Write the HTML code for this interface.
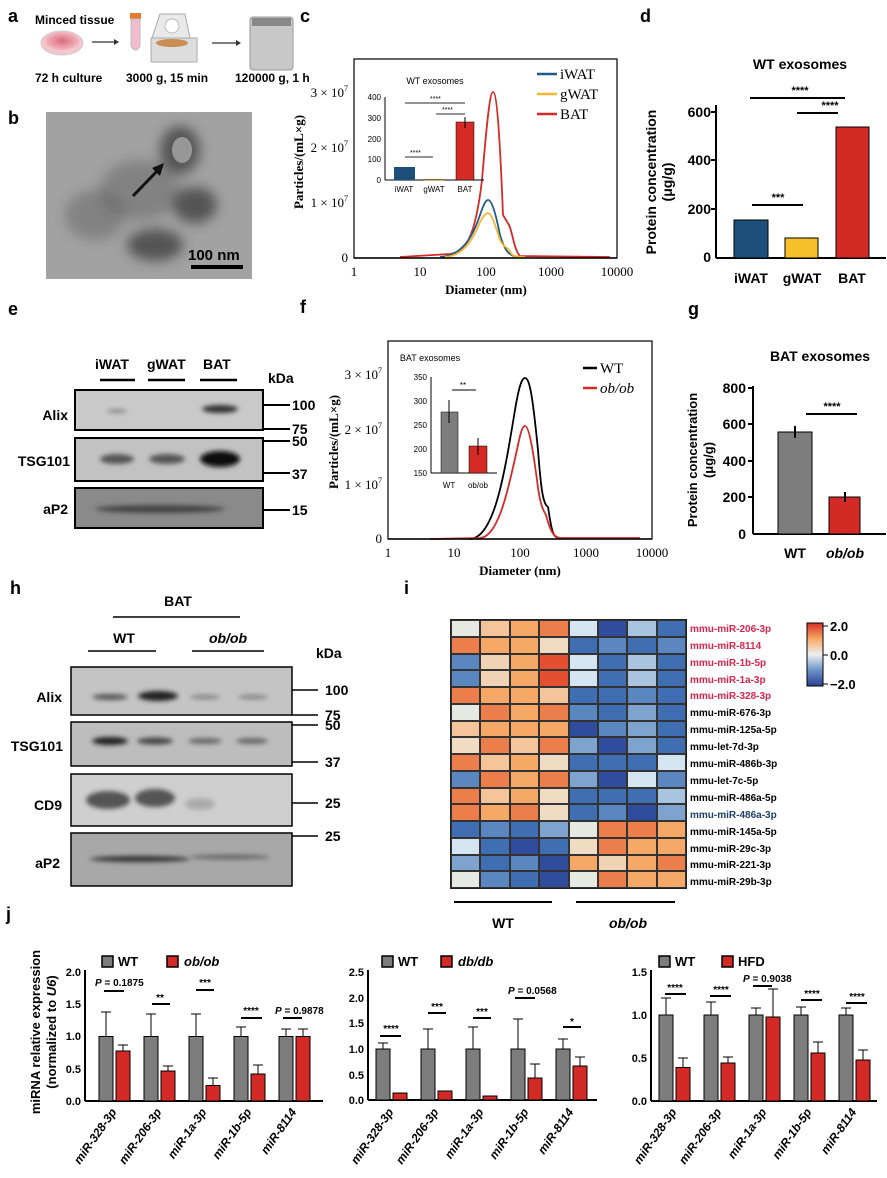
<!DOCTYPE html>
<html><head><meta charset="utf-8"><style>
body{margin:0;background:#fff;}
svg{display:block;font-family:"Liberation Sans",sans-serif;}
.b{font-weight:bold}
.s{font-family:"Liberation Serif",serif}
#hm{position:absolute;left:450px;top:619px;width:237px;height:270px;display:grid;grid-template-columns:repeat(8,1fr);grid-template-rows:repeat(16,1fr);border:1px solid #222;box-sizing:border-box}
#hm i{display:block;border:0.5px solid #333}
</style></head><body>
<div style="position:relative;width:887px;height:1178px">
<svg width="887" height="1178" viewBox="0 0 887 1178">
<defs>
<filter id="bl" x="-20%" y="-50%" width="140%" height="200%"><feGaussianBlur stdDeviation="2.5"/></filter>
<filter id="bl2"><feGaussianBlur stdDeviation="6"/></filter>
<radialGradient id="dish"><stop offset="0" stop-color="#d96b7c"/><stop offset="1" stop-color="#f4b6c0"/></radialGradient>
</defs>
<g class="b" font-size="18" fill="#000">
<text x="8" y="22">a</text><text x="8" y="124">b</text><text x="300" y="22">c</text><text x="640" y="22">d</text>
<text x="8" y="315">e</text><text x="300" y="313">f</text><text x="688" y="315">g</text>
<text x="10" y="594">h</text><text x="404" y="594">i</text><text x="6" y="920">j</text>
</g>
<!-- panel a -->
<text x="35" y="24" class="b" font-size="12">Minced tissue</text>
<ellipse cx="62" cy="43" rx="21" ry="12" fill="#f2c6cc" stroke="#ccc"/>
<ellipse cx="62" cy="41" rx="17" ry="9" fill="url(#dish)"/>
<line x1="92" y1="42" x2="114" y2="42" stroke="#333" stroke-width="1.2"/><path d="M114,39 L119,42 L114,45Z" fill="#333"/>
<rect x="130" y="13" width="11" height="6" fill="#e27b2e"/><path d="M131,19 H140 V46 Q135.5,54 131,46Z" fill="#f1bcd0" stroke="#bbb"/>
<path d="M152,38 L160,14 L185,14 L190,38Z" fill="#e9e9ea" stroke="#aaa"/><circle cx="172" cy="26" r="7" fill="#fff" stroke="#bbb"/>
<rect x="151" y="38" width="46" height="24" fill="#ddd" stroke="#aaa"/><ellipse cx="172" cy="43" rx="16" ry="4" fill="#c98e50"/>
<line x1="212" y1="43" x2="236" y2="43" stroke="#333" stroke-width="1.2"/><path d="M236,40 L241,43 L236,46Z" fill="#333"/>
<rect x="250" y="17" width="43" height="53" rx="3" fill="#c8c8c8" stroke="#999"/><rect x="252" y="18" width="39" height="8" fill="#888"/>
<g class="b" font-size="12"><text x="35" y="82">72 h culture</text><text x="126" y="82">3000 g, 15 min</text><text x="235" y="82">120000 g, 1 h</text></g>
<!-- panel b -->
<rect x="46" y="112" width="206" height="167" fill="#a2a2a2"/>
<g filter="url(#bl2)" fill="#3a3a3a" opacity="0.75">
<ellipse cx="180" cy="150" rx="20" ry="24"/><ellipse cx="195" cy="205" rx="22" ry="18"/><ellipse cx="155" cy="245" rx="28" ry="16"/>
<ellipse cx="95" cy="215" rx="30" ry="25" opacity="0.4"/><ellipse cx="140" cy="190" rx="40" ry="30" opacity="0.4"/>
</g>
<ellipse cx="182" cy="150" rx="10" ry="13" fill="#a8a8a8" opacity="0.8"/>
<line x1="133" y1="196" x2="160" y2="168" stroke="#111" stroke-width="3"/><path d="M164,163 L152,168 L160,176Z" fill="#111"/>
<text x="188" y="260" class="b" font-size="15">100 nm</text>
<rect x="191" y="265" width="52" height="4" fill="#000"/>
<!-- panel c -->
<g class="s" font-size="13">
<rect x="354" y="59" width="263" height="199" fill="none" stroke="#000" stroke-width="1.2"/>
<text x="348" y="262" text-anchor="end">0</text>
<text x="348" y="207" text-anchor="end">1 × 10<tspan font-size="8" dy="-6">7</tspan></text>
<text x="348" y="152" text-anchor="end">2 × 10<tspan font-size="8" dy="-6">7</tspan></text>
<text x="348" y="97" text-anchor="end">3 × 10<tspan font-size="8" dy="-6">7</tspan></text>
<text x="354" y="276" text-anchor="middle">1</text><text x="420" y="276" text-anchor="middle">10</text><text x="486" y="276" text-anchor="middle">100</text><text x="551" y="276" text-anchor="middle">1000</text><text x="617" y="276" text-anchor="middle">10000</text>
<text x="486" y="294" text-anchor="middle" class="b" font-size="13">Diameter (nm)</text>
<text transform="translate(303,162) rotate(-90)" text-anchor="middle" class="b" font-size="13">Particles/(mL×g)</text>
<line x1="537" y1="74" x2="557" y2="74" stroke="#1f5b8f" stroke-width="2.5"/><text x="560" y="79" font-size="15">iWAT</text>
<line x1="537" y1="94" x2="557" y2="94" stroke="#f5b731" stroke-width="2.5"/><text x="560" y="99" font-size="15">gWAT</text>
<line x1="537" y1="114" x2="557" y2="114" stroke="#d62a26" stroke-width="2.5"/><text x="560" y="119" font-size="15">BAT</text>
</g>
<g fill="none" stroke-width="1.8">
<path d="M400,257 L450,254 C465,252 475,240 482,180 C487,120 490,92 493,92 C497,92 500,140 503,215 L509,225 C512,230 514,250 520,256 L610,257" stroke="#d62a26"/>
<path d="M440,257 C465,256 475,230 480,215 C484,203 486,200 488,200 C492,200 496,215 500,235 C505,252 510,257 520,257" stroke="#1f5b8f"/>
<path d="M445,257 C465,256 475,235 480,222 C484,215 486,213 488,213 C492,213 496,228 500,240 C504,248 506,246 509,250 C512,256 514,257 525,257" stroke="#f5b731"/>
</g>
<line x1="354" y1="258" x2="617" y2="258" stroke="#000" stroke-width="1.5"/>
<!-- inset c -->
<g font-size="8">
<text x="435" y="84" text-anchor="middle" font-size="9">WT exosomes</text>
<line x1="385" y1="97" x2="385" y2="180" stroke="#000"/><line x1="385" y1="180" x2="484" y2="180" stroke="#000"/>
<text x="381" y="100" text-anchor="end">400</text><text x="381" y="121" text-anchor="end">300</text><text x="381" y="142" text-anchor="end">200</text><text x="381" y="162" text-anchor="end">100</text><text x="381" y="183" text-anchor="end">0</text>
<rect x="394" y="167" width="21" height="13" fill="#1c4f7a"/><rect x="424" y="179" width="20" height="1.5" fill="#8a6a20"/><rect x="456" y="122" width="18" height="58" fill="#d62a26" stroke="#000" stroke-width="0.5"/>
<line x1="465" y1="117" x2="465" y2="128" stroke="#000"/>
<text x="404" y="192" text-anchor="middle">iWAT</text><text x="434" y="192" text-anchor="middle">gWAT</text><text x="465" y="192" text-anchor="middle">BAT</text>
<line x1="405" y1="103" x2="465" y2="103" stroke="#555" stroke-width="1.2"/><text x="430" y="101" font-size="7">****</text>
<line x1="436" y1="114" x2="465" y2="114" stroke="#555" stroke-width="1.2"/><text x="442" y="112" font-size="7">****</text>
<line x1="405" y1="157" x2="433" y2="157" stroke="#555" stroke-width="1.2"/><text x="410" y="155" font-size="7">****</text>
</g>
<!-- panel d -->
<text x="800" y="69" text-anchor="middle" class="b" font-size="14">WT exosomes</text>
<g class="b" font-size="14">
<line x1="716" y1="105" x2="716" y2="258" stroke="#000" stroke-width="2"/><line x1="716" y1="258" x2="886" y2="258" stroke="#000" stroke-width="2"/>
<text x="711" y="117" text-anchor="end">600</text><text x="711" y="165" text-anchor="end">400</text><text x="711" y="214" text-anchor="end">200</text><text x="711" y="262" text-anchor="end">0</text>
<line x1="711" y1="112" x2="716" y2="112" stroke="#000" stroke-width="2"/><line x1="711" y1="160" x2="716" y2="160" stroke="#000" stroke-width="2"/><line x1="711" y1="209" x2="716" y2="209" stroke="#000" stroke-width="2"/>
<rect x="734" y="220" width="34" height="38" fill="#1c4f7a" stroke="#000"/><rect x="785" y="238" width="33" height="20" fill="#f5c02a" stroke="#000"/><rect x="836" y="127" width="33" height="131" fill="#d42a26" stroke="#000"/>
<text x="751" y="283" text-anchor="middle">iWAT</text><text x="802" y="283" text-anchor="middle">gWAT</text><text x="852" y="283" text-anchor="middle">BAT</text>
<line x1="750" y1="98" x2="845" y2="98" stroke="#000" stroke-width="2"/><text x="800" y="94" text-anchor="middle" font-size="11">****</text>
<line x1="797" y1="113" x2="838" y2="113" stroke="#000" stroke-width="2"/><text x="830" y="109" text-anchor="middle" font-size="11">****</text>
<line x1="752" y1="205" x2="803" y2="205" stroke="#000" stroke-width="2"/><text x="778" y="201" text-anchor="middle" font-size="11">***</text>
<text transform="translate(656,182) rotate(-90)" text-anchor="middle" font-size="14">Protein concentration</text>
<text transform="translate(672,182) rotate(-90)" text-anchor="middle" font-size="14">(μg/g)</text>
</g>
<!-- panel e -->
<g class="b" font-size="14">
<text x="95" y="369">iWAT</text><text x="147" y="369">gWAT</text><text x="203" y="369">BAT</text><text x="268" y="383">kDa</text>
<line x1="100" y1="380" x2="135" y2="380" stroke="#000" stroke-width="2.5"/><line x1="148" y1="380" x2="185" y2="380" stroke="#000" stroke-width="2.5"/><line x1="200" y1="380" x2="237" y2="380" stroke="#000" stroke-width="2.5"/>
<rect x="75" y="390" width="188" height="40" fill="#c9c9c9" stroke="#000" stroke-width="2"/>
<rect x="75" y="438" width="188" height="43" fill="#c2c2c2" stroke="#000" stroke-width="2"/>
<rect x="75" y="488" width="188" height="40" fill="#8a8a8a" stroke="#000" stroke-width="2"/>
<g filter="url(#bl)"><ellipse cx="220" cy="409" rx="18" ry="4" fill="#333"/><ellipse cx="117" cy="411" rx="10" ry="2" fill="#888"/>
<ellipse cx="117" cy="459" rx="17" ry="5" fill="#555"/><ellipse cx="167" cy="459" rx="18" ry="5" fill="#555"/><ellipse cx="220" cy="459" rx="20" ry="8" fill="#111"/>
<ellipse cx="160" cy="509" rx="65" ry="4" fill="#444"/></g>
<text x="68" y="420" text-anchor="end">Alix</text><text x="70" y="466" text-anchor="end">TSG101</text><text x="68" y="514" text-anchor="end">aP2</text>
<g stroke="#000" stroke-width="2"><line x1="263" y1="405" x2="290" y2="405"/><line x1="263" y1="429" x2="290" y2="429"/><line x1="263" y1="441" x2="290" y2="441"/><line x1="263" y1="473" x2="290" y2="473"/><line x1="263" y1="510" x2="290" y2="510"/></g>
<text x="292" y="410">100</text><text x="292" y="434">75</text><text x="292" y="446">50</text><text x="292" y="479">37</text><text x="292" y="515">15</text>
</g>
<!-- panel f -->
<g class="s" font-size="13">
<rect x="388" y="341" width="264" height="198" fill="none" stroke="#000" stroke-width="1.2"/>
<text x="382" y="543" text-anchor="end">0</text>
<text x="382" y="489" text-anchor="end">1 × 10<tspan font-size="8" dy="-6">7</tspan></text>
<text x="382" y="434" text-anchor="end">2 × 10<tspan font-size="8" dy="-6">7</tspan></text>
<text x="382" y="379" text-anchor="end">3 × 10<tspan font-size="8" dy="-6">7</tspan></text>
<text x="388" y="557" text-anchor="middle">1</text><text x="454" y="557" text-anchor="middle">10</text><text x="520" y="557" text-anchor="middle">100</text><text x="586" y="557" text-anchor="middle">1000</text><text x="652" y="557" text-anchor="middle">10000</text>
<text x="520" y="575" text-anchor="middle" class="b">Diameter (nm)</text>
<text transform="translate(338,442) rotate(-90)" text-anchor="middle" class="b">Particles/(mL×g)</text>
<line x1="583" y1="368" x2="597" y2="368" stroke="#000" stroke-width="2.5"/><text x="600" y="373" font-size="15">WT</text>
<line x1="583" y1="388" x2="597" y2="388" stroke="#d62a26" stroke-width="2.5"/><text x="600" y="393" font-size="15" font-style="italic">ob/ob</text>
</g>
<g fill="none" stroke-width="1.8">
<path d="M470,539 C495,538 505,470 515,410 C520,380 523,378 525,378 C530,378 533,400 538,450 C541,490 543,500 546,505 L548,507 C550,520 552,535 556,537 L560,539" stroke="#000"/>
<path d="M430,539 L480,538 C500,537 510,480 518,445 C521,430 523,426 525,426 C529,426 533,450 537,480 C540,505 543,510 546,515 C550,530 553,537 560,538 L640,538" stroke="#d62a26"/>
</g>
<line x1="388" y1="539" x2="652" y2="539" stroke="#000" stroke-width="1.5"/>
<g font-size="8">
<text x="430" y="361" text-anchor="middle" font-size="9">BAT exosomes</text>
<line x1="431" y1="377" x2="431" y2="473" stroke="#000"/><line x1="431" y1="473" x2="497" y2="473" stroke="#000"/>
<text x="427" y="380" text-anchor="end">350</text><text x="427" y="404" text-anchor="end">300</text><text x="427" y="428" text-anchor="end">250</text><text x="427" y="452" text-anchor="end">200</text><text x="427" y="476" text-anchor="end">150</text>
<rect x="441" y="412" width="17" height="61" fill="#7d7d7d" stroke="#000" stroke-width="0.5"/><rect x="469" y="446" width="18" height="27" fill="#d62a26" stroke="#000" stroke-width="0.5"/>
<line x1="449" y1="400" x2="449" y2="423" stroke="#000"/><line x1="478" y1="438" x2="478" y2="455" stroke="#000"/>
<text x="449" y="488" text-anchor="middle">WT</text><text x="478" y="488" text-anchor="middle">ob/ob</text>
<line x1="452" y1="390" x2="476" y2="390" stroke="#000"/><text x="463" y="388" text-anchor="middle">**</text>
</g>
<!-- panel g -->
<g class="b" font-size="14">
<text x="820" y="361" text-anchor="middle">BAT exosomes</text>
<line x1="753" y1="386" x2="753" y2="534" stroke="#000" stroke-width="2"/><line x1="753" y1="534" x2="886" y2="534" stroke="#000" stroke-width="2"/>
<line x1="748" y1="388" x2="753" y2="388" stroke="#000" stroke-width="2"/><line x1="748" y1="424" x2="753" y2="424" stroke="#000" stroke-width="2"/><line x1="748" y1="461" x2="753" y2="461" stroke="#000" stroke-width="2"/><line x1="748" y1="497" x2="753" y2="497" stroke="#000" stroke-width="2"/>
<text x="746" y="393" text-anchor="end">800</text><text x="746" y="429" text-anchor="end">600</text><text x="746" y="466" text-anchor="end">400</text><text x="746" y="502" text-anchor="end">200</text><text x="746" y="539" text-anchor="end">0</text>
<rect x="778" y="432" width="34" height="102" fill="#7d7d7d" stroke="#000"/><rect x="829" y="497" width="31" height="37" fill="#d42a26" stroke="#000"/>
<line x1="795" y1="426" x2="795" y2="438" stroke="#000" stroke-width="2"/><line x1="845" y1="492" x2="845" y2="502" stroke="#000" stroke-width="2"/>
<text x="795" y="558" text-anchor="middle">WT</text><text x="845" y="558" text-anchor="middle" font-style="italic">ob/ob</text>
<line x1="806" y1="414" x2="857" y2="414" stroke="#000" stroke-width="2"/><text x="832" y="410" text-anchor="middle" font-size="11">****</text>
<text transform="translate(697,460) rotate(-90)" text-anchor="middle" font-size="13">Protein concentration</text>
<text transform="translate(713,460) rotate(-90)" text-anchor="middle" font-size="13">(μg/g)</text>
</g>
<!-- panel h -->
<g class="b" font-size="14">
<text x="178" y="606" text-anchor="middle">BAT</text>
<line x1="113" y1="617" x2="240" y2="617" stroke="#000" stroke-width="1.5"/>
<text x="124" y="643" text-anchor="middle">WT</text><text x="228" y="643" text-anchor="middle" font-style="italic">ob/ob</text>
<line x1="88" y1="651" x2="156" y2="651" stroke="#000" stroke-width="1.5"/><line x1="192" y1="651" x2="264" y2="651" stroke="#000" stroke-width="1.5"/>
<text x="316" y="658">kDa</text>
<rect x="71" y="667" width="221" height="48" fill="#c4c4c4" stroke="#000" stroke-width="1.5"/>
<rect x="71" y="722" width="221" height="44" fill="#bdbdbd" stroke="#000" stroke-width="1.5"/>
<rect x="71" y="774" width="221" height="52" fill="#cfcfcf" stroke="#000" stroke-width="1.5"/>
<rect x="71" y="833" width="221" height="53" fill="#a8a8a8" stroke="#000" stroke-width="1.5"/>
<g filter="url(#bl)">
<ellipse cx="110" cy="697" rx="18" ry="3" fill="#555"/><ellipse cx="158" cy="696" rx="20" ry="5" fill="#222"/><ellipse cx="205" cy="697" rx="15" ry="2.5" fill="#888"/><ellipse cx="253" cy="697" rx="15" ry="2.5" fill="#888"/>
<ellipse cx="110" cy="741" rx="18" ry="4" fill="#222"/><ellipse cx="155" cy="741" rx="18" ry="3.5" fill="#444"/><ellipse cx="205" cy="741" rx="17" ry="3" fill="#666"/><ellipse cx="252" cy="741" rx="16" ry="3" fill="#666"/>
<ellipse cx="108" cy="800" rx="22" ry="9" fill="#555"/><ellipse cx="155" cy="798" rx="20" ry="9" fill="#555"/><ellipse cx="200" cy="804" rx="15" ry="6" fill="#aaa"/>
<ellipse cx="140" cy="859" rx="50" ry="3" fill="#333"/><ellipse cx="230" cy="857" rx="40" ry="2.5" fill="#666"/>
</g>
<text x="62" y="702" text-anchor="end">Alix</text><text x="63" y="751" text-anchor="end">TSG101</text><text x="62" y="810" text-anchor="end">CD9</text><text x="60" y="868" text-anchor="end">aP2</text>
<g stroke="#000" stroke-width="1.5"><line x1="292" y1="690" x2="318" y2="690"/><line x1="292" y1="715" x2="318" y2="715"/><line x1="292" y1="725" x2="318" y2="725"/><line x1="292" y1="762" x2="318" y2="762"/><line x1="292" y1="803" x2="318" y2="803"/><line x1="292" y1="836" x2="318" y2="836"/></g>
<text x="325" y="695">100</text><text x="325" y="720">75</text><text x="325" y="730">50</text><text x="325" y="767">37</text><text x="325" y="808">25</text><text x="325" y="841">25</text>
</g>
<!-- panel i labels -->
<g class="b" font-size="10">
<g fill="#e0234a"><text x="690" y="632">mmu-miR-206-3p</text><text x="690" y="649">mmu-miR-8114</text><text x="690" y="666">mmu-miR-1b-5p</text><text x="690" y="683">mmu-miR-1a-3p</text><text x="690" y="699">mmu-miR-328-3p</text></g>
<text x="690" y="716">mmu-miR-676-3p</text><text x="690" y="733">mmu-miR-125a-5p</text><text x="690" y="750">mmu-let-7d-3p</text><text x="690" y="767">mmu-miR-486b-3p</text><text x="690" y="784">mmu-let-7c-5p</text><text x="690" y="801">mmu-miR-486a-5p</text><text x="690" y="818" fill="#1f3f66">mmu-miR-486a-3p</text><text x="690" y="835">mmu-miR-145a-5p</text><text x="690" y="852">mmu-miR-29c-3p</text><text x="690" y="868">mmu-miR-221-3p</text><text x="690" y="885">mmu-miR-29b-3p</text>
</g>
<defs><linearGradient id="cb" x1="0" y1="0" x2="0" y2="1"><stop offset="0" stop-color="#d73027"/><stop offset="0.25" stop-color="#f6a866"/><stop offset="0.5" stop-color="#eef0f0"/><stop offset="0.75" stop-color="#6a94c8"/><stop offset="1" stop-color="#2b3f94"/></linearGradient></defs>
<rect x="807" y="623" width="16" height="63" fill="url(#cb)" stroke="#000"/>
<g class="b" font-size="13"><line x1="823" y1="626" x2="828" y2="626" stroke="#000"/><line x1="823" y1="655" x2="828" y2="655" stroke="#000"/><line x1="823" y1="684" x2="828" y2="684" stroke="#000"/>
<text x="830" y="631">2.0</text><text x="830" y="660">0.0</text><text x="830" y="689">−2.0</text></g>
<line x1="454" y1="902" x2="552" y2="902" stroke="#000" stroke-width="2"/><line x1="576" y1="902" x2="675" y2="902" stroke="#000" stroke-width="2"/>
<text x="503" y="928" text-anchor="middle" class="b" font-size="14">WT</text><text x="628" y="928" text-anchor="middle" class="b" font-size="14" font-style="italic">ob/ob</text>
<!-- panel j -->
<g class="b" font-size="13">
<text transform="translate(40,1032) rotate(-90)" text-anchor="middle">miRNA relative expression</text>
<text transform="translate(56,1032) rotate(-90)" text-anchor="middle">(normalized to <tspan font-style="italic">U6</tspan>)</text>
</g>
<g class="b" font-size="11" stroke-width="1.5">
<!-- sub1 -->
<line x1="85" y1="970" x2="85" y2="1101" stroke="#000" stroke-width="2"/><line x1="85" y1="1101" x2="323" y2="1101" stroke="#000" stroke-width="2"/>
<text x="81" y="976" text-anchor="end">2.0</text><text x="81" y="1008" text-anchor="end">1.5</text><text x="81" y="1040" text-anchor="end">1.0</text><text x="81" y="1073" text-anchor="end">0.5</text><text x="81" y="1105" text-anchor="end">0.0</text>
<rect x="102" y="956" width="11" height="11" fill="#7d7d7d" stroke="#000"/><text x="118" y="966" font-size="13">WT</text>
<rect x="167" y="956" width="11" height="11" fill="#d42a26" stroke="#000"/><text x="184" y="966" font-size="13" font-style="italic">ob/ob</text>
<g stroke="#000" stroke-width="1">
<rect x="99" y="1036.5" width="14" height="64.5" fill="#7d7d7d"/><rect x="116" y="1051" width="14" height="50" fill="#d42a26"/>
<rect x="144" y="1036.5" width="14" height="64.5" fill="#7d7d7d"/><rect x="161" y="1071" width="14" height="30" fill="#d42a26"/>
<rect x="189" y="1036.5" width="14" height="64.5" fill="#7d7d7d"/><rect x="206" y="1085.5" width="14" height="15.5" fill="#d42a26"/>
<rect x="234" y="1036.5" width="14" height="64.5" fill="#7d7d7d"/><rect x="251" y="1074" width="14" height="27" fill="#d42a26"/>
<rect x="279" y="1036.5" width="14" height="64.5" fill="#7d7d7d"/><rect x="296" y="1036.5" width="14" height="64.5" fill="#d42a26"/>
<path d="M106,1012V1036M101,1012H111M151,1014V1036M146,1014H156M196,1014V1036M191,1014H201M241,1027V1036M236,1027H246M286,1029V1036M281,1029H291M123,1045V1051M118,1045H128M168,1066V1071M163,1066H173M213,1078V1085M208,1078H218M258,1065V1074M253,1065H263M303,1029V1036M298,1029H308"/>
</g>
<g font-size="10"><text x="95" y="986" font-size="10"><tspan font-style="italic">P</tspan> = 0.1875</text><line x1="104" y1="991" x2="124" y2="991" stroke="#000" stroke-width="2"/>
<text x="160" y="1001" text-anchor="middle">**</text><line x1="152" y1="1004" x2="170" y2="1004" stroke="#000" stroke-width="2"/>
<text x="205" y="986" text-anchor="middle">***</text><line x1="196" y1="990" x2="214" y2="990" stroke="#000" stroke-width="2"/>
<text x="251" y="1014" text-anchor="middle">****</text><line x1="241" y1="1018" x2="262" y2="1018" stroke="#000" stroke-width="2"/>
<text x="275" y="1014"><tspan font-style="italic">P</tspan> = 0.9878</text><line x1="283" y1="1018" x2="302" y2="1018" stroke="#000" stroke-width="2"/></g>
<g font-size="12" font-style="italic" text-anchor="end">
<text transform="translate(117,1112) rotate(-55)">miR-328-3p</text><text transform="translate(162,1112) rotate(-55)">miR-206-3p</text><text transform="translate(207,1112) rotate(-55)">miR-1a-3p</text><text transform="translate(252,1112) rotate(-55)">miR-1b-5p</text><text transform="translate(297,1112) rotate(-55)">miR-8114</text>
</g>
<!-- sub2 -->
<line x1="368" y1="970" x2="368" y2="1100" stroke="#000" stroke-width="2"/><line x1="368" y1="1100" x2="597" y2="1100" stroke="#000" stroke-width="2"/>
<text x="364" y="976" text-anchor="end">2.5</text><text x="364" y="1002" text-anchor="end">2.0</text><text x="364" y="1027" text-anchor="end">1.5</text><text x="364" y="1053" text-anchor="end">1.0</text><text x="364" y="1079" text-anchor="end">0.5</text><text x="364" y="1104" text-anchor="end">0.0</text>
<rect x="382" y="956" width="11" height="11" fill="#7d7d7d" stroke="#000"/><text x="398" y="966" font-size="13">WT</text>
<rect x="441" y="956" width="11" height="11" fill="#d42a26" stroke="#000"/><text x="458" y="966" font-size="13" font-style="italic">db/db</text>
<g stroke="#000" stroke-width="1">
<rect x="376" y="1049" width="14" height="51" fill="#7d7d7d"/><rect x="393" y="1093" width="14" height="7" fill="#d42a26"/>
<rect x="421" y="1049" width="14" height="51" fill="#7d7d7d"/><rect x="438" y="1091" width="14" height="9" fill="#d42a26"/>
<rect x="466" y="1049" width="14" height="51" fill="#7d7d7d"/><rect x="483" y="1096" width="14" height="4" fill="#d42a26"/>
<rect x="511" y="1049" width="14" height="51" fill="#7d7d7d"/><rect x="528" y="1078" width="14" height="22" fill="#d42a26"/>
<rect x="556" y="1049" width="14" height="51" fill="#7d7d7d"/><rect x="573" y="1066" width="14" height="34" fill="#d42a26"/>
<path d="M383,1043V1049M378,1043H388M428,1029V1049M423,1029H433M473,1027V1049M468,1027H478M518,1019V1049M513,1019H523M563,1039V1049M558,1039H568M435,1084V1091M580,1057V1066M575,1057H585M535,1064V1078M530,1064H540"/>
</g>
<g font-size="10"><text x="391" y="1032" text-anchor="middle">****</text><line x1="380" y1="1036" x2="401" y2="1036" stroke="#000" stroke-width="2"/>
<text x="437" y="1010" text-anchor="middle">***</text><line x1="428" y1="1013" x2="446" y2="1013" stroke="#000" stroke-width="2"/>
<text x="482" y="1015" text-anchor="middle">***</text><line x1="473" y1="1018" x2="491" y2="1018" stroke="#000" stroke-width="2"/>
<text x="508" y="994"><tspan font-style="italic">P</tspan> = 0.0568</text><line x1="515" y1="998" x2="535" y2="998" stroke="#000" stroke-width="2"/>
<text x="572" y="1025" text-anchor="middle">*</text><line x1="563" y1="1027" x2="581" y2="1027" stroke="#000" stroke-width="2"/></g>
<g font-size="12" font-style="italic" text-anchor="end">
<text transform="translate(394,1112) rotate(-55)">miR-328-3p</text><text transform="translate(439,1112) rotate(-55)">miR-206-3p</text><text transform="translate(484,1112) rotate(-55)">miR-1a-3p</text><text transform="translate(529,1112) rotate(-55)">miR-1b-5p</text><text transform="translate(574,1112) rotate(-55)">miR-8114</text>
</g>
<!-- sub3 -->
<line x1="651" y1="970" x2="651" y2="1101" stroke="#000" stroke-width="2"/><line x1="651" y1="1101" x2="877" y2="1101" stroke="#000" stroke-width="2"/>
<text x="647" y="976" text-anchor="end">1.5</text><text x="647" y="1019" text-anchor="end">1.0</text><text x="647" y="1062" text-anchor="end">0.5</text><text x="647" y="1105" text-anchor="end">0.0</text>
<rect x="659" y="956" width="11" height="11" fill="#7d7d7d" stroke="#000"/><text x="675" y="966" font-size="13">WT</text>
<rect x="722" y="956" width="11" height="11" fill="#d42a26" stroke="#000"/><text x="738" y="966" font-size="13">HFD</text>
<g stroke="#000" stroke-width="1">
<rect x="659" y="1015" width="14" height="86" fill="#7d7d7d"/><rect x="676" y="1067.5" width="14" height="33.5" fill="#d42a26"/>
<rect x="704" y="1015" width="14" height="86" fill="#7d7d7d"/><rect x="721" y="1063" width="14" height="38" fill="#d42a26"/>
<rect x="749" y="1015" width="14" height="86" fill="#7d7d7d"/><rect x="766" y="1017" width="14" height="84" fill="#d42a26"/>
<rect x="794" y="1015" width="14" height="86" fill="#7d7d7d"/><rect x="811" y="1053" width="14" height="48" fill="#d42a26"/>
<rect x="839" y="1015" width="14" height="86" fill="#7d7d7d"/><rect x="856" y="1060" width="14" height="41" fill="#d42a26"/>
<path d="M666,998V1015M661,998H671M711,1002V1015M706,1002H716M756,1008V1015M751,1008H761M801,1007V1015M796,1007H806M846,1008V1015M841,1008H851M683,1058V1067M678,1058H688M728,1057V1063M723,1057H733M773,989V1017M768,989H778M818,1042V1053M813,1042H823M863,1050V1060M858,1050H868"/>
</g>
<g font-size="10"><text x="675" y="991" text-anchor="middle">****</text><line x1="665" y1="994" x2="686" y2="994" stroke="#000" stroke-width="2"/>
<text x="721" y="993" text-anchor="middle">****</text><line x1="710" y1="996" x2="731" y2="996" stroke="#000" stroke-width="2"/>
<text x="743" y="982"><tspan font-style="italic">P</tspan> = 0.9038</text><line x1="753" y1="986" x2="772" y2="986" stroke="#000" stroke-width="2"/>
<text x="812" y="997" text-anchor="middle">****</text><line x1="801" y1="1000" x2="822" y2="1000" stroke="#000" stroke-width="2"/>
<text x="857" y="1000" text-anchor="middle">****</text><line x1="846" y1="1003" x2="867" y2="1003" stroke="#000" stroke-width="2"/></g>
<g font-size="12" font-style="italic" text-anchor="end">
<text transform="translate(677,1112) rotate(-55)">miR-328-3p</text><text transform="translate(722,1112) rotate(-55)">miR-206-3p</text><text transform="translate(767,1112) rotate(-55)">miR-1a-3p</text><text transform="translate(812,1112) rotate(-55)">miR-1b-5p</text><text transform="translate(857,1112) rotate(-55)">miR-8114</text>
</g>
</g>
</svg>
<div id="hm">
<i style="background:#e6e8e2"></i><i style="background:#f4c49a"></i><i style="background:#f6a866"></i><i style="background:#eb7e4a"></i><i style="background:#d4e4f0"></i><i style="background:#2f4d9c"></i><i style="background:#a9c4de"></i><i style="background:#3f6fb2"></i>
<i style="background:#eb7e4a"></i><i style="background:#f6a866"></i><i style="background:#f6a866"></i><i style="background:#f0dcc2"></i><i style="background:#3f6fb2"></i><i style="background:#5b87c0"></i><i style="background:#3f6fb2"></i><i style="background:#5b87c0"></i>
<i style="background:#5b87c0"></i><i style="background:#f0d2b4"></i><i style="background:#f6a866"></i><i style="background:#e4502f"></i><i style="background:#d4e4f0"></i><i style="background:#3f6fb2"></i><i style="background:#a9c4de"></i><i style="background:#3f6fb2"></i>
<i style="background:#5b87c0"></i><i style="background:#f0d2b4"></i><i style="background:#f6a866"></i><i style="background:#e4502f"></i><i style="background:#d4e4f0"></i><i style="background:#3f6fb2"></i><i style="background:#a9c4de"></i><i style="background:#3f6fb2"></i>
<i style="background:#eb7e4a"></i><i style="background:#f6a866"></i><i style="background:#f6a866"></i><i style="background:#f4c49a"></i><i style="background:#3f6fb2"></i><i style="background:#3f6fb2"></i><i style="background:#5b87c0"></i><i style="background:#3f6fb2"></i>
<i style="background:#e6e8e2"></i><i style="background:#eb7e4a"></i><i style="background:#f6a866"></i><i style="background:#eb7e4a"></i><i style="background:#5b87c0"></i><i style="background:#3f6fb2"></i><i style="background:#7fa3cf"></i><i style="background:#3f6fb2"></i>
<i style="background:#f4c49a"></i><i style="background:#f6a866"></i><i style="background:#f6a866"></i><i style="background:#f6a866"></i><i style="background:#2f4d9c"></i><i style="background:#5b87c0"></i><i style="background:#7fa3cf"></i><i style="background:#3f6fb2"></i>
<i style="background:#f0dcc2"></i><i style="background:#eb7e4a"></i><i style="background:#f4c49a"></i><i style="background:#eb7e4a"></i><i style="background:#7fa3cf"></i><i style="background:#2f4d9c"></i><i style="background:#7fa3cf"></i><i style="background:#3f6fb2"></i>
<i style="background:#eb7e4a"></i><i style="background:#f4c49a"></i><i style="background:#f6a866"></i><i style="background:#f0dcc2"></i><i style="background:#3f6fb2"></i><i style="background:#3f6fb2"></i><i style="background:#3f6fb2"></i><i style="background:#d4e4f0"></i>
<i style="background:#5b87c0"></i><i style="background:#eb7e4a"></i><i style="background:#f6a866"></i><i style="background:#eb7e4a"></i><i style="background:#7fa3cf"></i><i style="background:#2f4d9c"></i><i style="background:#d4e4f0"></i><i style="background:#5b87c0"></i>
<i style="background:#eb7e4a"></i><i style="background:#f4c49a"></i><i style="background:#f6a866"></i><i style="background:#f0dcc2"></i><i style="background:#3f6fb2"></i><i style="background:#3f6fb2"></i><i style="background:#3f6fb2"></i><i style="background:#a9c4de"></i>
<i style="background:#eb7e4a"></i><i style="background:#f6a866"></i><i style="background:#eb7e4a"></i><i style="background:#f0dcc2"></i><i style="background:#3f6fb2"></i><i style="background:#5b87c0"></i><i style="background:#2f4d9c"></i><i style="background:#7fa3cf"></i>
<i style="background:#3f6fb2"></i><i style="background:#5b87c0"></i><i style="background:#3f6fb2"></i><i style="background:#7fa3cf"></i><i style="background:#e6e8e2"></i><i style="background:#eb7e4a"></i><i style="background:#eb7e4a"></i><i style="background:#f6a866"></i>
<i style="background:#d4e4f0"></i><i style="background:#3f6fb2"></i><i style="background:#2f4d9c"></i><i style="background:#3f6fb2"></i><i style="background:#f0dcc2"></i><i style="background:#eb7e4a"></i><i style="background:#f6a866"></i><i style="background:#f6a866"></i>
<i style="background:#7fa3cf"></i><i style="background:#3f6fb2"></i><i style="background:#5b87c0"></i><i style="background:#2f4d9c"></i><i style="background:#f6a866"></i><i style="background:#f0d2b4"></i><i style="background:#f6a866"></i><i style="background:#eb7e4a"></i>
<i style="background:#e6e8e2"></i><i style="background:#5b87c0"></i><i style="background:#3f6fb2"></i><i style="background:#2f4d9c"></i><i style="background:#e6e8e2"></i><i style="background:#eb7e4a"></i><i style="background:#f6a866"></i><i style="background:#f6a866"></i>
</div>
</div>
</body></html>
